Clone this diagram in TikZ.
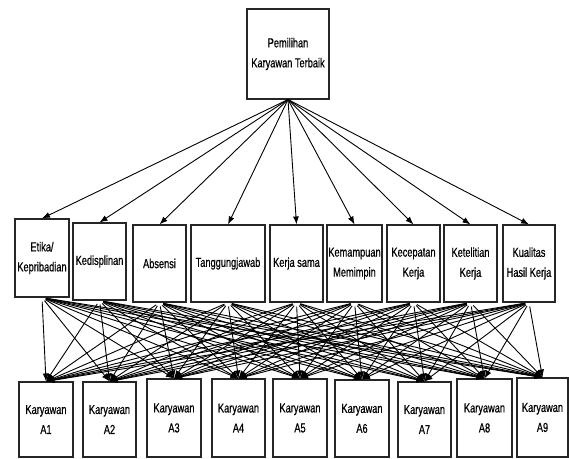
\documentclass[tikz,border=0pt]{standalone}
\usepackage{fontspec}
\setmainfont[FakeStretch=0.71,FakeBold=0.6]{Liberation Sans}
\usetikzlibrary{arrows.meta}
\tikzset{
  box/.style={draw=black!85, line width=1.1pt, fill=white, inner sep=0pt, align=center,
    font=\fontsize{13}{20}\selectfont},
  topbox/.style={box, minimum width=82pt, minimum height=90pt},
  critbox/.style={box, minimum width=53pt, minimum height=77pt},
  altbox/.style={box, minimum width=54pt, minimum height=77pt},
  arr/.style={draw=black, line width=0.9pt, -{Latex[length=8pt,width=6pt]}},
  link/.style={arr, shorten <=4pt}
}
\begin{document}
\begin{tikzpicture}[x=1pt,y=-1pt]
\useasboundingbox (0,0) rectangle (569,458);
% top
\node[topbox] (top) at (288,54) {Pemilihan\\Karyawan Terbaik};
% criteria
\node[critbox, minimum width=54pt, minimum height=78pt] (m1) at (42,258) {Etika/\\Kepribadian};
\node[critbox] (m2) at (99.5,261.5) {Kedisplinan};
\node[critbox] (m3) at (159.5,263.5) {Absensi};
\node[critbox, minimum width=74pt] (m4) at (228,263.5) {Tanggungjawab};
\node[critbox] (m5) at (296.5,263.5) {Kerja sama};
\node[critbox, minimum width=55pt] (m6) at (354.5,263.5) {Kemampuan\\Memimpin};
\node[critbox] (m7) at (413.5,263.5) {Kecepatan\\Kerja};
\node[critbox] (m8) at (470.5,263.5) {Ketelitian\\Kerja};
\node[critbox, minimum width=52pt] (m9) at (529,263.5) {Kualitas\\Hasil Kerja};
% alternatives
\node[altbox, minimum height=75pt] (b1) at (46,419.5) {Karyawan\\A1};
\node[altbox, minimum width=53pt, minimum height=75pt] (b2) at (109.5,419.5) {Karyawan\\A2};
\node[altbox, minimum height=78pt] (b3) at (174,418) {Karyawan\\A3};
\node[altbox, minimum width=53pt, minimum height=78pt] (b4) at (238.5,418) {Karyawan\\A4};
\node[altbox, minimum height=78pt] (b5) at (300,418) {Karyawan\\A5};
\node[altbox, minimum height=77pt] (b6) at (362,418.5) {Karyawan\\A6};
\node[altbox, minimum width=53pt, minimum height=75pt] (b7) at (424.5,419.5) {Karyawan\\A7};
\node[altbox, minimum width=55pt, minimum height=78pt] (b8) at (484.5,418) {Karyawan\\A8};
\node[altbox, minimum width=51pt, minimum height=79pt] (b9) at (542.5,417.5) {Karyawan\\A9};
% top -> criteria
\foreach \m in {1,...,9} {
  \draw[arr] (top.south) -- (m\m.north);
}
% criteria -> alternatives
\foreach \m in {1,...,9} {
  \foreach \b in {1,...,9} {
    \draw[link] (m\m.south) -- (b\b.north);
  }
}
\end{tikzpicture}
\end{document}
